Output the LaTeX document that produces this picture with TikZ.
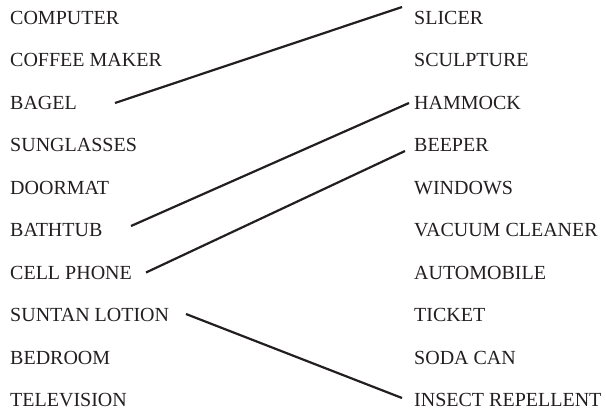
\documentclass[tikz,border=0pt]{standalone}
\usepackage{fontspec}
\setmainfont{Liberation Serif}
\usetikzlibrary{calc}
\definecolor{ink}{HTML}{231F20}
\tikzset{
  item/.style={anchor=base west, inner sep=0pt, text=ink, font=\fontsize{20bp}{24bp}\selectfont},
  match/.style={draw=ink, line width=2.2bp, line cap=butt}
}
\begin{document}
\begin{tikzpicture}[x=1bp,y=-1bp]
\useasboundingbox (0,0) rectangle (606,412);
% left column
\node[item] (l1) at (10,24) {COMPUTER};
\node[item] (l2) at (10,66.5) {COFFEE MAKER};
\node[item] (l3) at (10,109) {BAGEL};
\node[item] (l4) at (10,151.5) {SUNGLASSES};
\node[item] (l5) at (10,194) {DOORMAT};
\node[item] (l6) at (10,236.5) {BATHTUB};
\node[item] (l7) at (10,279) {CELL PHONE};
\node[item] (l8) at (10,321.5) {SUNTAN LOTION};
\node[item] (l9) at (10,364) {BEDROOM};
\node[item] (l10) at (10,406.5) {TELEVISION};
% right column
\node[item] (r1) at (414,24) {SLICER};
\node[item] (r2) at (414,66.5) {SCULPTURE};
\node[item] (r3) at (414,109) {HAMMOCK};
\node[item] (r4) at (414,151.5) {BEEPER};
\node[item] (r5) at (414,194) {WINDOWS};
\node[item] (r6) at (414,236.5) {VACUUM CLEANER};
\node[item] (r7) at (414,279) {AUTOMOBILE};
\node[item] (r8) at (414,321.5) {TICKET};
\node[item] (r9) at (414,364) {SODA CAN};
\node[item] (r10) at (414,406.5) {INSECT REPELLENT};
% connectors
\draw[match] ($(l3.base west)+(105,-6)$) -- ($(r1.base west)+(-12,-17)$);
\draw[match] ($(l6.base west)+(121,-10.5)$) -- ($(r3.base west)+(-5,-6)$);
\draw[match] ($(l7.base west)+(136,-6.5)$) -- ($(r4.base west)+(-9,-0.5)$);
\draw[match] ($(l8.base west)+(176,-7.5)$) -- ($(r10.base west)+(-12,-8.5)$);
\end{tikzpicture}
\end{document}
